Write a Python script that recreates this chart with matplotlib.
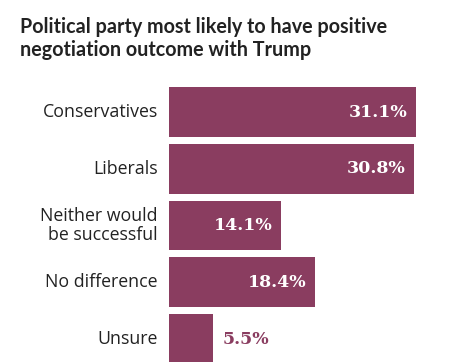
import numpy as np
import matplotlib
matplotlib.use("Agg")
import matplotlib.pyplot as plt

categories = ["Conservatives", "Liberals", "Neither would\nbe successful",
              "No difference", "Unsure"]
values = [31.1, 30.8, 14.1, 18.4, 5.5]
labels = ["31.1%", "30.8%", "14.1%", "18.4%", "5.5%"]

BAR = "#8a3d60"
W, H = 451, 362

fig = plt.figure(figsize=(W / 100, H / 100), dpi=100)
ax = fig.add_axes([169 / W, 0, (W - 169) / W, (362 - 80) / H])

y = np.arange(len(values))
ax.barh(y, values, height=0.88, color=BAR)
ax.set_xlim(0, (W - 169) / 7.94)
ax.set_ylim(4.405, -0.564)
ax.axis("off")

for i, (v, lab) in enumerate(zip(values, labels)):
    if v > 8:
        ax.annotate(lab, (v, i), xytext=(-6, 0), textcoords="offset points",
                    ha="right", va="center", color="white", fontsize=12.5,
                    fontweight="heavy", family="DejaVu Serif")
    else:
        ax.annotate(lab, (v, i), xytext=(7, 0), textcoords="offset points",
                    ha="left", va="center", color=BAR, fontsize=12.5,
                    fontweight="heavy", family="DejaVu Serif")
    ax.annotate(categories[i], (0, i), xytext=(-8, 0), textcoords="offset points",
                ha="right", va="center", color="#222222", fontsize=12.8,
                family="Open Sans", linespacing=1.1, annotation_clip=False)

fig.text(20 / W, 1 - 17 / H,
         "Political party most likely to have positive\nnegotiation outcome with Trump",
         ha="left", va="top", fontsize=14.2, fontweight="bold", family="Lato",
         color="#222222", linespacing=1.2)

fig.savefig("out.png", dpi=100)
